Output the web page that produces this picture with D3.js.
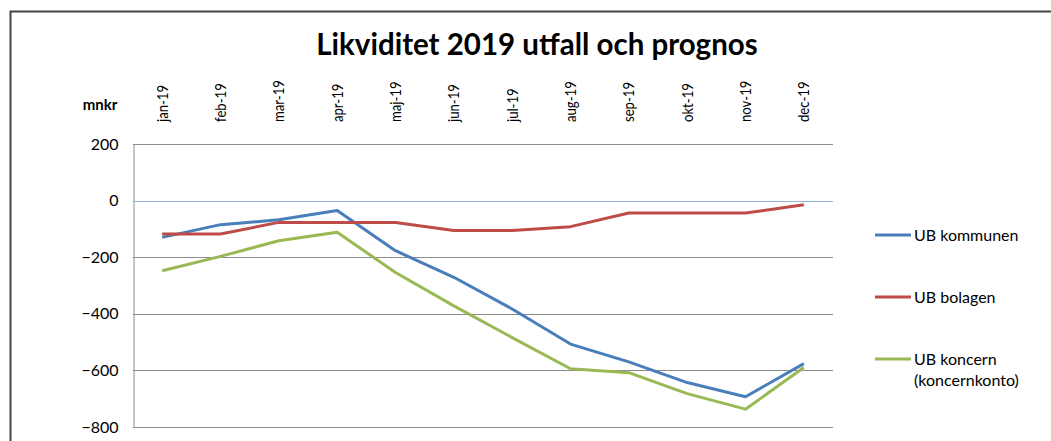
<!DOCTYPE html>
<html>
<head>
<meta charset="utf-8">
<script src="https://cdn.jsdelivr.net/npm/d3@7"></script>
<style>
  body { margin: 0; background: #fff; }
  text { font-family: Lato, "Noto Sans", sans-serif; fill: #000; }
</style>
</head>
<body>
<script>
const months = ["jan-19", "feb-19", "mar-19", "apr-19", "maj-19", "jun-19",
  "jul-19", "aug-19", "sep-19", "okt-19", "nov-19", "dec-19"];
const kommunen = [-130, -85, -68, -35, -177, -271, -383, -507, -570, -643, -693, -576];
const bolagen = [-118, -118, -77, -77, -77, -106, -106, -92, -44, -44, -44, -15];
const koncern = [-248, -197, -142, -112, -254, -372, -484, -594, -608, -682, -737, -590];
const yTicks = [200, 0, -200, -400, -600, -800];

const series = [
  { name: ["UB kommunen"], values: kommunen, color: "#4a7ebb" },
  { name: ["UB bolagen"], values: bolagen, color: "#be4b48" },
  { name: ["UB koncern", "(koncernkonto)"], values: koncern, color: "#98b954" }
];

const width = 1051;
const height = 441;
const plot = { left: 133, right: 833, top: 144, bottom: 427 };

const svg = d3.select("body").append("svg")
  .attr("width", width)
  .attr("height", height);

// frame
svg.append("path")
  .attr("d", `M10.5,${height} V11.5 H${width}`)
  .attr("fill", "none")
  .attr("stroke", "#444")
  .attr("stroke-width", 2);

svg.append("text")
  .attr("x", 537)
  .attr("y", 55)
  .attr("text-anchor", "middle")
  .attr("font-weight", "bold")
  .attr("font-size", 29.5)
  .text("Likviditet 2019 utfall och prognos");

const x = d3.scaleBand().domain(months).range([plot.left, plot.right]);
const y = d3.scaleLinear().domain([-800, 200]).range([plot.bottom, plot.top]);

// gridlines
svg.append("g")
  .selectAll("line")
  .data(yTicks.filter(d => d !== 0))
  .join("line")
  .attr("x1", plot.left)
  .attr("x2", plot.right)
  .attr("y1", d => Math.round(y(d)) + 0.5)
  .attr("y2", d => Math.round(y(d)) + 0.5)
  .attr("stroke", "#8c8c8c")
  .attr("stroke-width", 1);

// value axis
const yAxis = svg.append("g")
  .attr("transform", `translate(${plot.left + 0.5},0)`)
  .call(d3.axisLeft(y).tickValues(yTicks).tickSize(0).tickPadding(15));
yAxis.select(".domain").attr("stroke", "#8c8c8c");
yAxis.selectAll("text")
  .attr("font-size", 16)
  .attr("fill", "#000")
  .style("font-family", "Lato, sans-serif");

// zero line
svg.append("line")
  .attr("x1", plot.left)
  .attr("x2", plot.right)
  .attr("y1", Math.round(y(0)) + 0.5)
  .attr("y2", Math.round(y(0)) + 0.5)
  .attr("stroke", "#8eb3df")
  .attr("stroke-width", 1);

// month labels on top
const xAxis = svg.append("g")
  .attr("transform", `translate(0,${plot.top - 22})`)
  .call(d3.axisTop(x).tickSize(0).tickPadding(0));
xAxis.select(".domain").remove();
xAxis.selectAll("text")
  .attr("font-size", 16)
  .attr("fill", "#000")
  .style("font-family", "Lato, sans-serif")
  .attr("transform", "rotate(-90) scale(0.82,1)")
  .attr("text-anchor", "start")
  .attr("x", 0)
  .attr("y", 0)
  .attr("dy", "0.35em");

svg.append("text")
  .attr("x", 100)
  .attr("y", 109.5)
  .attr("text-anchor", "middle")
  .attr("font-weight", "bold")
  .attr("font-size", 15)
  .text("mnkr");

// lines
const line = d3.line()
  .x((d, i) => x(months[i]) + x.bandwidth() / 2)
  .y(d => y(d));

svg.append("g")
  .selectAll("path")
  .data(series)
  .join("path")
  .attr("d", d => line(d.values))
  .attr("fill", "none")
  .attr("stroke", d => d.color)
  .attr("stroke-width", 3)
  .attr("stroke-linejoin", "round");

// legend
const legendY = [235, 297, 359];
const legend = svg.append("g")
  .selectAll("g")
  .data(series)
  .join("g")
  .attr("transform", (d, i) => `translate(875,${legendY[i]})`);

legend.append("line")
  .attr("x1", 0)
  .attr("x2", 36)
  .attr("stroke", d => d.color)
  .attr("stroke-width", 3);

legend.append("text")
  .attr("x", 39)
  .attr("font-size", 16)
  .selectAll("tspan")
  .data(d => d.name)
  .join("tspan")
  .attr("x", 39)
  .attr("y", (d, i) => i * 21)
  .attr("dy", "0.35em")
  .text(d => d);
</script>
</body>
</html>
